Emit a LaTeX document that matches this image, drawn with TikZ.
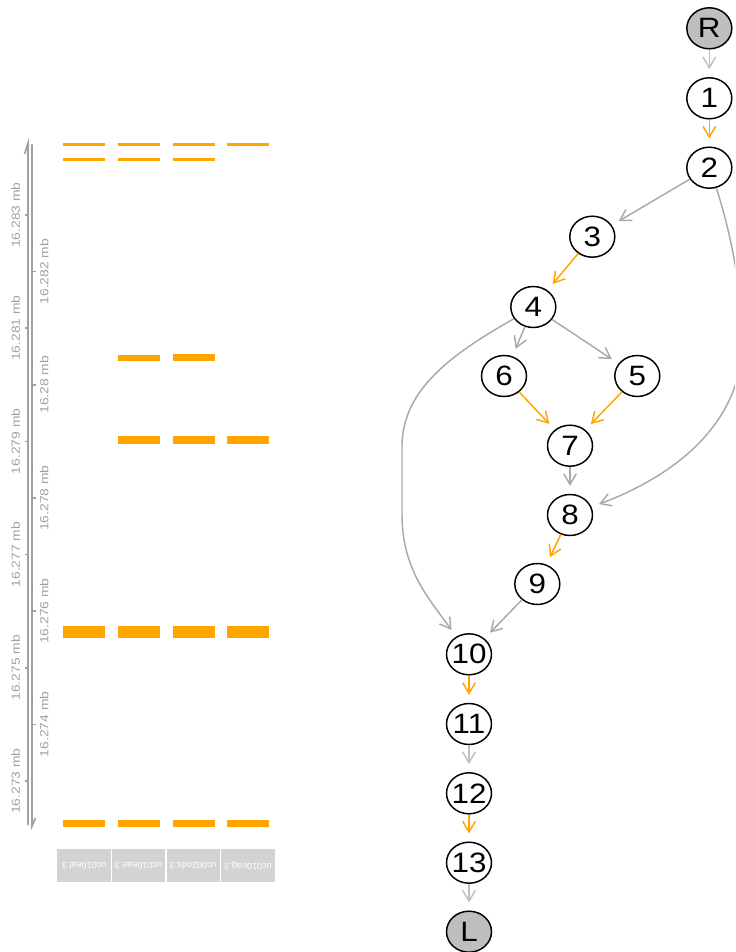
\documentclass[tikz,border=0pt]{standalone}
\usepackage{fontspec}
\setmainfont{Liberation Sans}
\usetikzlibrary{shapes.geometric,arrows.meta}
\definecolor{og}{HTML}{FFA500}
\definecolor{eg}{HTML}{A9A9A9}
\definecolor{lg}{HTML}{C0C0C0}
\definecolor{ng}{HTML}{BEBEBE}
\definecolor{ax}{HTML}{A0A0A0}
\definecolor{lbl}{HTML}{D3D3D3}
\begin{document}
\begin{tikzpicture}[x=0.75pt,y=-0.75pt,
  vtx/.style={ellipse,draw=black,line width=1.1pt,fill=white,minimum width=33.75pt,minimum height=30.75pt,inner sep=0pt,font=\fontsize{21}{21}\selectfont},
  term/.style={vtx,fill=ng},
  edg/.style={line width=1.1pt,-{Straight Barb[length=8pt,width=9.5pt]},shorten >=6pt,draw=eg},
  edo/.style={edg,draw=og},
  edl/.style={edg,draw=lg},
  axl/.style={rotate=90,text=ax,inner sep=0pt,font=\fontsize{8.8}{10}\selectfont},
  axline/.style={draw=ax,line width=1.3pt},
  bar/.style={fill=og},
  collab/.style={fill=lbl,minimum width=40.2pt,minimum height=24.5pt,inner sep=0pt,text=white,rotate=180,font=\fontsize{6.8}{7}\selectfont}
]
\useasboundingbox (0,0) rectangle (735,952);
\clip (0,0) rectangle (735,952);

% ---------- axis ----------
\draw[axline] (28,825) -- (28,143.5) -- (24.5,154);
\draw[axline] (32,144.5) -- (32,826) -- (35.5,818);
\foreach \y/\t [count=\i] in {215/16.283,328.2/16.281,441.4/16.279,554.6/16.277,667.8/16.275,781/16.273}{
  \draw[axline] (24.5,\y) -- (28,\y);
  \node[axl] (ao\i) at (15.7,\y) {\scalebox{1.18}[1]{\t\ mb}};
}
\foreach \y/\t [count=\i] in {271.6/16.282,384.8/16.28,498/16.278,611.2/16.276,724.4/16.274}{
  \draw[axline] (32,\y) -- (35.5,\y);
  \node[axl] (ae\i) at (44.3,\y) {\scalebox{1.18}[1]{\t\ mb}};
}

% ---------- bars ----------
\foreach \xa in {63,118,173,227}{
  \fill[bar] (\xa,143) rectangle ++(42,2.8);
  \fill[bar] (\xa,626) rectangle ++(42,11.7);
  \fill[bar] (\xa,820) rectangle ++(42,6.7);
}
\foreach \xa in {63,118,173}{
  \fill[bar] (\xa,158.5) rectangle ++(42,2.2);
}
\fill[bar] (118,355.3) rectangle ++(42,5.4);
\fill[bar] (173,354) rectangle ++(42,6.7);
\foreach \xa in {118,173,227}{
  \fill[bar] (\xa,436) rectangle ++(42,8.3);
}

% ---------- column labels ----------
\node[collab] (c1) at (84.2,865.5) {uc010eal.3};
\node[collab] (c2) at (138.5,865.5) {uc010eae.3};
\node[collab] (c3) at (193.3,865.5) {uc002nds.3};
\node[collab] (c4) at (248,865.5) {uc010eag.3};

% ---------- graph ----------
\node[term] (R) at (709.3,28.3) {\makebox[0pt]{\scalebox{1.12}[1]{R}}};
\node[vtx] (n1) at (709.3,98.3) {\makebox[0pt]{\scalebox{1.12}[1]{1}}};
\node[vtx] (n2) at (709.3,167.7) {\makebox[0pt]{\scalebox{1.12}[1]{2}}};
\node[vtx] (n3) at (592.3,236.7) {\makebox[0pt]{\scalebox{1.12}[1]{3}}};
\node[vtx] (n4) at (533.3,307) {\makebox[0pt]{\scalebox{1.12}[1]{4}}};
\node[vtx] (n6) at (504,376) {\makebox[0pt]{\scalebox{1.12}[1]{6}}};
\node[vtx] (n5) at (637.3,376) {\makebox[0pt]{\scalebox{1.12}[1]{5}}};
\node[vtx] (n7) at (570,445.7) {\makebox[0pt]{\scalebox{1.12}[1]{7}}};
\node[vtx] (n8) at (570,515) {\makebox[0pt]{\scalebox{1.12}[1]{8}}};
\node[vtx] (n9) at (537.3,584) {\makebox[0pt]{\scalebox{1.12}[1]{9}}};
\node[vtx] (n10) at (469,654.3) {\makebox[0pt]{\scalebox{1.12}[1]{10}}};
\node[vtx] (n11) at (469,724) {\makebox[0pt]{\scalebox{1.12}[1]{11}}};
\node[vtx] (n12) at (469,793.3) {\makebox[0pt]{\scalebox{1.12}[1]{12}}};
\node[vtx] (n13) at (469,862.7) {\makebox[0pt]{\scalebox{1.12}[1]{13}}};
\node[term] (L) at (469,931.7) {\makebox[0pt]{\scalebox{1.12}[1]{L}}};

\draw[edl] (R) -- (n1);
\draw[edo] (n1) -- (n2);
\draw[edg] (n2) -- (n3);
\draw[edo] (n3) -- (n4);
\draw[edg] (n4) -- (n6);
\draw[edg] (n4) -- (n5);
\draw[edo] (n6) -- (n7);
\draw[edo] (n5) -- (n7);
\draw[edg] (n7) -- (n8);
\draw[edo] (n8) -- (n9);
\draw[edg] (n9) -- (n10);
\draw[edo] (n10) -- (n11);
\draw[edl] (n11) -- (n12);
\draw[edo] (n12) -- (n13);
\draw[edl] (n13) -- (L);
\draw[edg] (n2.-71) .. controls (730,230) and (740,280) .. (742,330)
                    .. controls (748,410) and (690,470) .. (n8);
\draw[edg] (n4.-149) .. controls (450,355) and (403,390) .. (402,445) -- (402,515)
                    .. controls (402,570) and (430,600) .. (n10);
\end{tikzpicture}
\end{document}
